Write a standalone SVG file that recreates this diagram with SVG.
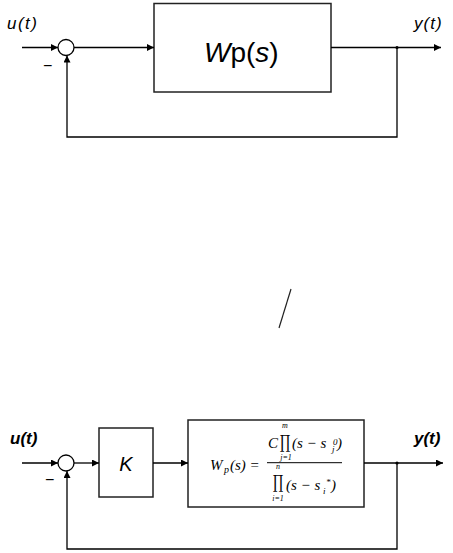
<svg xmlns="http://www.w3.org/2000/svg" width="453" height="553" viewBox="0 0 453 553">
<style>
.ln{stroke:#000;stroke-width:1.3;fill:none}
.bx{stroke:#222;stroke-width:1.5;fill:#fff}
.sans{font-family:"Liberation Sans",Arial,sans-serif;fill:#000}
.ser{font-family:"Liberation Serif","Times New Roman",serif;fill:#000;font-style:italic}
.pr{font-family:"DejaVu Serif","Liberation Serif",serif;fill:#000;font-size:16px}
</style>
<defs>
<marker id="ar" viewBox="0 0 10 10" refX="10" refY="5" markerWidth="8" markerHeight="7" markerUnits="userSpaceOnUse" orient="auto">
<path d="M0,0 L10,5 L0,10 z" fill="#000"/>
</marker>
</defs>
<rect width="453" height="553" fill="#fff"/>

<!-- Top diagram -->
<g id="top-sum"><circle cx="66" cy="47.5" r="8" class="ln" fill="#fff"/></g>
<g id="top-plant">
<rect x="154" y="3.5" width="177" height="88.5" class="bx"/>
<text x="204" y="62" class="sans" font-size="28"><tspan font-style="italic">W</tspan>p(<tspan font-style="italic">s</tspan>)</text>
</g>
<g id="top-labels">
<text x="7" y="29" class="sans" font-size="17" font-style="italic" letter-spacing="1.5">u(t)</text>
<text x="414" y="29" class="sans" font-size="17" font-style="italic" letter-spacing="1">y(t)</text>
<text x="43" y="71" class="sans" font-size="16">−</text>
</g>
<g id="top-connectors">
<line x1="22" y1="47.5" x2="58" y2="47.5" class="ln" marker-end="url(#ar)"/>
<line x1="74" y1="47.5" x2="154" y2="47.5" class="ln" marker-end="url(#ar)"/>
<line x1="331" y1="47.5" x2="441" y2="47.5" class="ln" marker-end="url(#ar)"/>
<polyline points="397,47.5 397,137 67,137 67,55.5" class="ln" marker-end="url(#ar)"/>
<circle cx="397" cy="47.5" r="1.6" fill="#000"/>
</g>

<!-- Slash -->
<line x1="291" y1="289" x2="279" y2="328" stroke="#222" stroke-width="1.2"/>

<!-- Bottom diagram -->
<g id="bot-sum"><circle cx="66" cy="463" r="8" class="ln" fill="#fff"/></g>
<g id="bot-K">
<rect x="99" y="428" width="54" height="69" class="bx"/>
<text x="126" y="470.5" class="sans" font-size="20" font-style="italic" text-anchor="middle">K</text>
</g>
<g id="bot-plant">
<rect x="188" y="420" width="176" height="87" class="bx"/>
<text x="210" y="470" class="ser" font-size="15">W</text>
<text x="224" y="473" class="ser" font-size="10">p</text>
<text x="230" y="470" class="ser" font-size="15" font-style="normal">(<tspan font-style="italic">s</tspan>) =</text>
<line x1="267" y1="462.7" x2="342" y2="462.7" stroke="#000" stroke-width="1"/>
<text x="268" y="448" class="ser" font-size="15">C</text>
<text transform="translate(285,448) scale(0.8,1.15)" class="pr" text-anchor="middle">∏</text>
<text x="285" y="428" class="ser" font-size="8" text-anchor="middle">m</text>
<text x="286" y="460" class="ser" font-size="8" font-style="normal" text-anchor="middle">j=1</text>
<text x="292" y="448" class="ser" font-size="15" font-style="normal">(<tspan font-style="italic">s</tspan> − <tspan font-style="italic">s</tspan></text>
<text x="333" y="445" class="ser" font-size="9" font-style="normal">0</text>
<text x="332" y="452" class="ser" font-size="9">j</text>
<text x="337" y="448" class="ser" font-size="15" font-style="normal">)</text>
<text transform="translate(278,488) scale(0.8,1.15)" class="pr" text-anchor="middle">∏</text>
<text x="278" y="469" class="ser" font-size="8" text-anchor="middle">n</text>
<text x="278" y="501" class="ser" font-size="8" font-style="normal" text-anchor="middle">i=1</text>
<text x="286" y="490" class="ser" font-size="15" font-style="normal">(<tspan font-style="italic">s</tspan> − <tspan font-style="italic">s</tspan></text>
<text x="323" y="494" class="ser" font-size="9">i</text>
<text x="326" y="485" class="ser" font-size="9" font-style="normal">*</text>
<text x="331" y="490" class="ser" font-size="15" font-style="normal">)</text>
</g>
<g id="bot-labels">
<text x="10" y="444" class="sans" font-size="17" font-style="italic" font-weight="bold">u(t)</text>
<text x="414" y="444" class="sans" font-size="17" font-style="italic" font-weight="bold">y(t)</text>
<text x="45" y="485" class="sans" font-size="16">−</text>
</g>
<g id="bot-connectors">
<line x1="22" y1="463" x2="58" y2="463" class="ln" marker-end="url(#ar)"/>
<line x1="74" y1="463" x2="99" y2="463" class="ln" marker-end="url(#ar)"/>
<line x1="153" y1="463" x2="188" y2="463" class="ln" marker-end="url(#ar)"/>
<line x1="364" y1="463" x2="443" y2="463" class="ln" marker-end="url(#ar)"/>
<polyline points="397,463 397,549 67,549 67,471" class="ln" marker-end="url(#ar)"/>
<circle cx="397" cy="463" r="1.6" fill="#000"/>
</g>
</svg>
